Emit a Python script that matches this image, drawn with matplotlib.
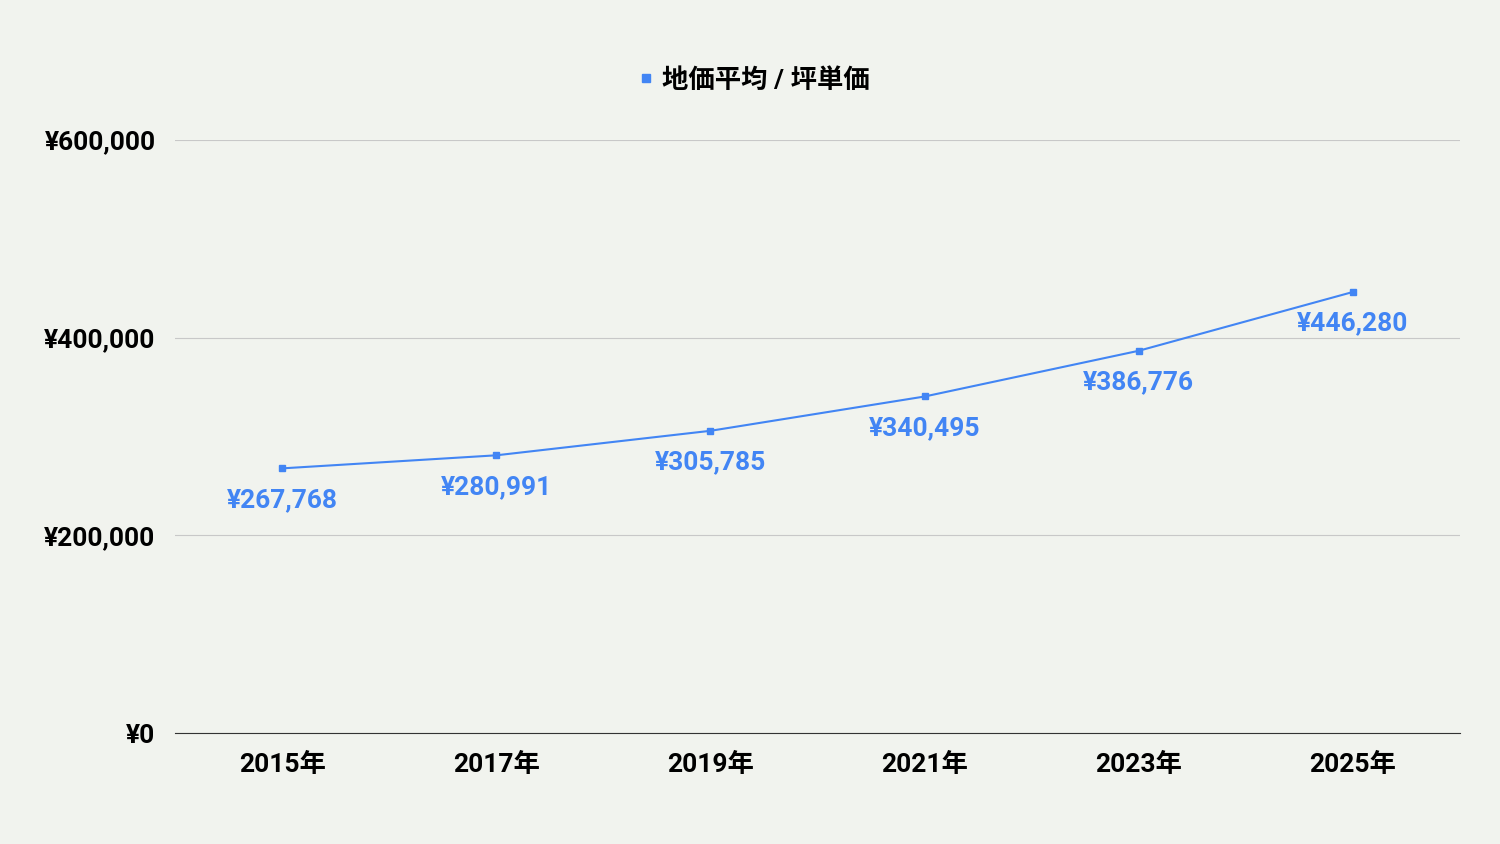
import matplotlib.pyplot as plt

plt.rcParams['font.family'] = ['Roboto', 'Noto Sans CJK JP', 'DejaVu Sans']

years = ['2015年', '2017年', '2019年', '2021年', '2023年', '2025年']
prices = [267768, 280991, 305785, 340495, 386776, 446280]
y_ticks = [0, 200000, 400000, 600000]
series_name = '地価平均 / 坪単価'

bg = '#f1f3ee'
blue = '#4285f4'

fig = plt.figure(figsize=(15, 8.44), dpi=100, facecolor=bg)
ax = fig.add_axes([0.1167, 0.1315, 0.8567, 0.7026], facecolor=bg)

x = list(range(len(years)))
ax.plot(x, prices, color=blue, lw=1.5, marker='s', ms=5, label=series_name)

for xi, v in zip(x, prices):
    ax.annotate(f'¥{v:,}', (xi, v), xytext=(0, -14), textcoords='offset points',
                ha='center', va='top', color=blue, fontsize=19, fontweight='bold')

ax.set_xlim(-0.5, len(years) - 0.5)
ax.set_ylim(0, 600000)
ax.set_xticks(x)
ax.set_xticklabels(years, fontsize=19, fontweight='bold')
ax.set_yticks(y_ticks)
ax.set_yticklabels([f'¥{t:,}' for t in y_ticks], fontsize=19, fontweight='bold')
ax.tick_params(axis='x', length=0, pad=14)
ax.tick_params(axis='y', length=0, pad=14)
ax.grid(axis='y', color='#c8c8c8', lw=0.8)
ax.set_axisbelow(True)
for s in ['top', 'right', 'left']:
    ax.spines[s].set_visible(False)
ax.spines['bottom'].set_color('#333333')

fig.legend(handles=[plt.Line2D([], [], color=blue, marker='s', ls='', ms=6)],
           labels=[series_name], loc='center', bbox_to_anchor=(0.5, 0.905),
           frameon=False, prop={'size': 19, 'weight': 'bold'},
           handletextpad=0.0, handlelength=1.2)

fig.savefig('out.png', facecolor=bg)
